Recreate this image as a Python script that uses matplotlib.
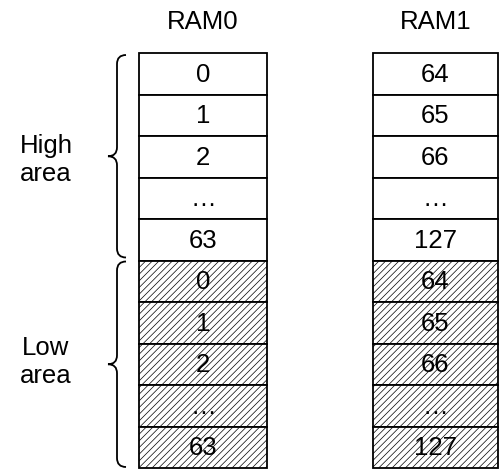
import matplotlib
matplotlib.use('Agg')
import matplotlib.pyplot as plt
from matplotlib.path import Path
from matplotlib.patches import PathPatch, Rectangle

plt.rcParams['font.family'] = ['Liberation Sans', 'DejaVu Sans']
plt.rcParams['hatch.linewidth'] = 0.5
plt.rcParams['hatch.color'] = '#808080'

titles = ['RAM0', 'RAM1']
ram0_high = ['0', '1', '2', '…', '63']
ram1_high = ['64', '65', '66', '…', '127']
ram0_low = ['0', '1', '2', '…', '63']
ram1_low = ['64', '65', '66', '…', '127']
areas = ['High\narea', 'Low\narea']

fig = plt.figure(figsize=(4.99, 4.70), dpi=100)
ax = fig.add_axes([0, 0, 1, 1])
ax.set_xlim(0, 499)
ax.set_ylim(470, 0)
ax.axis('off')

top = 53
row_h = 41.5
cols = [(139, 128), (373, 125)]
fs = 18.5


def brace(x_tip, y0, y1):
    x_line = x_tip + 9
    x_end = x_tip + 18
    r = 9
    mid = (y0 + y1) / 2
    verts = [(x_end, y0), (x_line, y0), (x_line, y0 + r),
             (x_line, mid - r),
             (x_line, mid), (x_tip, mid),
             (x_line, mid), (x_line, mid + r),
             (x_line, y1 - r),
             (x_line, y1), (x_end, y1)]
    codes = [Path.MOVETO, Path.CURVE3, Path.CURVE3,
             Path.LINETO,
             Path.CURVE3, Path.CURVE3,
             Path.CURVE3, Path.CURVE3,
             Path.LINETO,
             Path.CURVE3, Path.CURVE3]
    ax.add_patch(PathPatch(Path(verts, codes), fill=False, lw=1.3, color='black'))


for (x0, w), title, high, low in zip(cols, titles, [ram0_high, ram1_high], [ram0_low, ram1_low]):
    ax.text(x0 + w / 2, 22, title, ha='center', va='center', fontsize=fs)
    cells = [(v, False) for v in high] + [(v, True) for v in low]
    for i, (v, hatched) in enumerate(cells):
        y = top + i * row_h
        ax.add_patch(Rectangle((x0, y), w, row_h, facecolor='white',
                               edgecolor='black', lw=1.3,
                               hatch='/////' if hatched else None))
        ax.text(x0 + w / 2, y + row_h / 2 + 1, v, ha='center', va='center', fontsize=fs)

n_high = len(ram0_high)
brace(108, top + 2, top + n_high * row_h - 3)
brace(108, top + n_high * row_h + 1, top + 2 * n_high * row_h - 1)

ax.text(46, 160, areas[0], ha='center', va='center', fontsize=fs, linespacing=1.25)
ax.text(46, 362, areas[1], ha='center', va='center', fontsize=fs, linespacing=1.25)

fig.savefig('out.png', dpi=100)
